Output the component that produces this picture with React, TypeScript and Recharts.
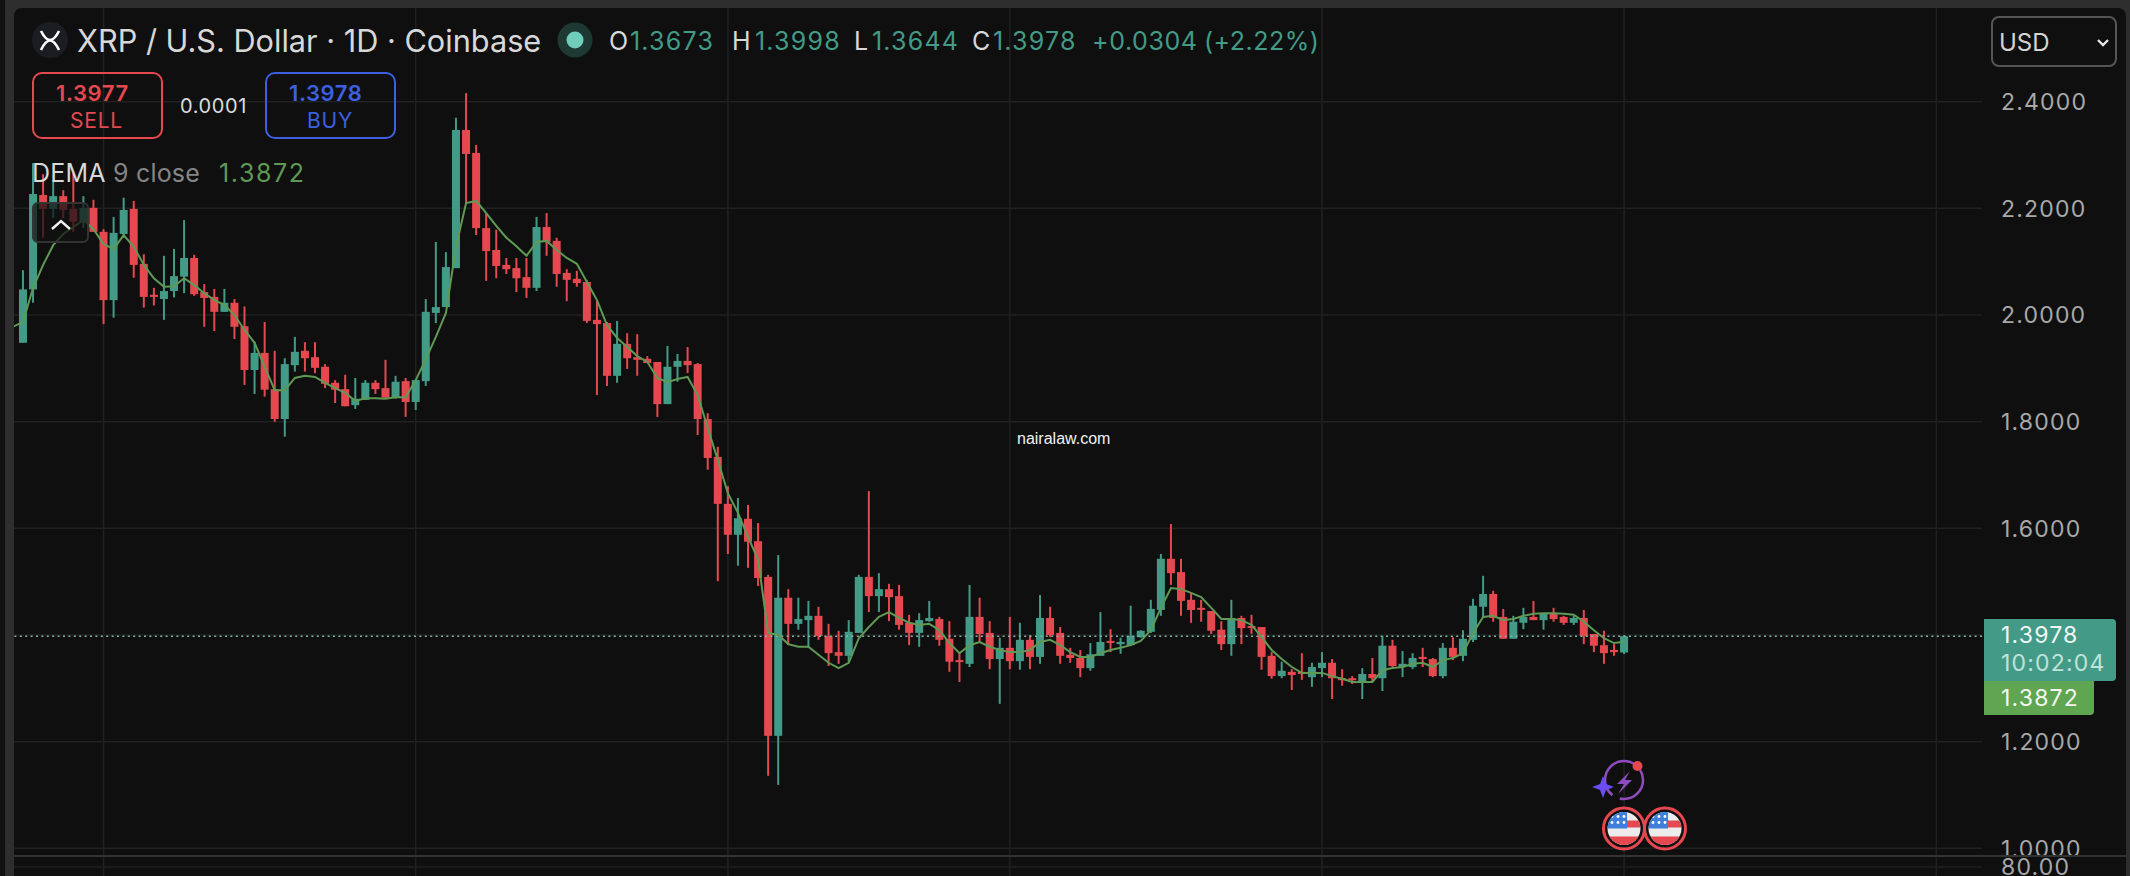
import React from "react";
import {
  Bar,
  CartesianGrid,
  ComposedChart,
  Line,
  ReferenceLine,
  XAxis,
  YAxis,
} from "recharts";

const opens = [
  1.948, 2.048, 2.225, 2.199, 2.223, 2.199, 2.175, 2.201, 2.156, 2.028,
  2.152, 2.199, 2.096, 2.038, 2.030, 2.045, 2.072, 2.107, 2.043, 2.034,
  2.006, 2.023, 1.979, 1.897, 1.929, 1.861, 1.805, 1.906, 1.933, 1.921,
  1.903, 1.873, 1.861, 1.831, 1.841, 1.873, 1.863, 1.846, 1.876, 1.837,
  1.876, 2.004, 2.015, 2.088, 2.347, 2.304, 2.163, 2.122, 2.094, 2.088,
  2.071, 2.051, 2.165, 2.139, 2.079, 2.068, 2.062, 1.991, 1.985, 1.886,
  1.946, 1.921, 1.918, 1.912, 1.833, 1.903, 1.914, 1.908, 1.805, 1.734,
  1.646, 1.588, 1.618, 1.576, 1.509, 1.211, 1.470, 1.421, 1.428, 1.436,
  1.398, 1.368, 1.361, 1.404, 1.509, 1.473, 1.486, 1.473, 1.423, 1.404,
  1.426, 1.430, 1.393, 1.353, 1.346, 1.434, 1.404, 1.355, 1.376, 1.351,
  1.391, 1.359, 1.432, 1.404, 1.363, 1.357, 1.338, 1.361, 1.389, 1.383,
  1.381, 1.396, 1.406, 1.447, 1.543, 1.518, 1.466, 1.451, 1.445, 1.410,
  1.383, 1.432, 1.417, 1.415, 1.361, 1.323, 1.331, 1.331, 1.321, 1.338,
  1.348, 1.319, 1.319, 1.312, 1.327, 1.319, 1.380, 1.340, 1.340, 1.359,
  1.355, 1.323, 1.376, 1.361, 1.391, 1.453, 1.477, 1.434, 1.393, 1.423,
  1.434, 1.428, 1.440, 1.434, 1.423, 1.432, 1.402, 1.381, 1.372, 1.3673,
];

const highs = [
  2.084, 2.285, 2.264, 2.253, 2.234, 2.266, 2.223, 2.216, 2.161, 2.184,
  2.220, 2.214, 2.114, 2.051, 2.111, 2.124, 2.178, 2.113, 2.058, 2.049,
  2.049, 2.030, 2.016, 1.950, 1.987, 1.933, 1.919, 1.959, 1.949, 1.949,
  1.908, 1.878, 1.888, 1.882, 1.878, 1.878, 1.916, 1.886, 1.882, 1.878,
  2.030, 2.137, 2.118, 2.370, 2.416, 2.319, 2.190, 2.160, 2.107, 2.107,
  2.107, 2.184, 2.191, 2.145, 2.086, 2.083, 2.066, 2.028, 1.987, 1.989,
  1.966, 1.964, 1.923, 1.912, 1.942, 1.927, 1.940, 1.910, 1.816, 1.753,
  1.679, 1.657, 1.644, 1.610, 1.513, 1.550, 1.486, 1.470, 1.464, 1.453,
  1.421, 1.408, 1.428, 1.513, 1.670, 1.516, 1.496, 1.494, 1.438, 1.441,
  1.464, 1.434, 1.426, 1.366, 1.494, 1.470, 1.426, 1.395, 1.434, 1.423,
  1.400, 1.475, 1.453, 1.415, 1.376, 1.372, 1.385, 1.443, 1.411, 1.395,
  1.455, 1.409, 1.466, 1.552, 1.608, 1.543, 1.479, 1.466, 1.445, 1.426,
  1.466, 1.436, 1.438, 1.415, 1.368, 1.350, 1.336, 1.366, 1.348, 1.368,
  1.355, 1.336, 1.323, 1.338, 1.357, 1.398, 1.391, 1.370, 1.366, 1.376,
  1.357, 1.385, 1.396, 1.409, 1.468, 1.511, 1.483, 1.449, 1.436, 1.451,
  1.464, 1.441, 1.451, 1.436, 1.436, 1.447, 1.402, 1.408, 1.383, 1.3998,
];

const lows = [
  1.948, 2.023, 2.145, 2.182, 2.182, 2.156, 2.163, 2.156, 1.983, 1.995,
  2.145, 2.070, 2.014, 2.018, 1.991, 2.033, 2.041, 2.036, 1.978, 1.970,
  2.006, 1.955, 1.869, 1.852, 1.847, 1.800, 1.772, 1.894, 1.894, 1.891,
  1.863, 1.835, 1.829, 1.824, 1.841, 1.852, 1.845, 1.843, 1.809, 1.822,
  1.867, 1.985, 2.015, 2.088, 2.210, 2.150, 2.064, 2.069, 2.077, 2.043,
  2.032, 2.045, 2.111, 2.053, 2.026, 2.053, 1.985, 1.850, 1.867, 1.873,
  1.899, 1.886, 1.910, 1.809, 1.833, 1.875, 1.891, 1.775, 1.710, 1.501,
  1.552, 1.530, 1.526, 1.492, 1.136, 1.119, 1.381, 1.410, 1.376, 1.391,
  1.342, 1.346, 1.350, 1.404, 1.443, 1.443, 1.426, 1.410, 1.381, 1.378,
  1.425, 1.380, 1.331, 1.312, 1.340, 1.387, 1.336, 1.271, 1.336, 1.335,
  1.336, 1.346, 1.396, 1.346, 1.348, 1.321, 1.333, 1.361, 1.368, 1.365,
  1.381, 1.395, 1.404, 1.436, 1.494, 1.436, 1.423, 1.425, 1.402, 1.372,
  1.361, 1.383, 1.402, 1.335, 1.318, 1.319, 1.297, 1.316, 1.303, 1.321,
  1.280, 1.305, 1.308, 1.280, 1.312, 1.295, 1.340, 1.321, 1.336, 1.340,
  1.321, 1.319, 1.353, 1.351, 1.387, 1.432, 1.425, 1.393, 1.393, 1.411,
  1.428, 1.410, 1.425, 1.419, 1.419, 1.383, 1.368, 1.346, 1.361, 1.3644,
];

const closes = [
  2.048, 2.227, 2.199, 2.223, 2.197, 2.175, 2.201, 2.156, 2.028, 2.154,
  2.197, 2.094, 2.034, 2.034, 2.045, 2.073, 2.107, 2.039, 2.032, 2.006,
  2.023, 1.978, 1.897, 1.929, 1.860, 1.805, 1.908, 1.931, 1.919, 1.901,
  1.871, 1.860, 1.829, 1.843, 1.873, 1.861, 1.845, 1.875, 1.837, 1.878,
  2.006, 2.015, 2.090, 2.347, 2.302, 2.163, 2.120, 2.092, 2.086, 2.069,
  2.051, 2.165, 2.137, 2.077, 2.066, 2.060, 1.989, 1.983, 1.886, 1.946,
  1.919, 1.916, 1.910, 1.833, 1.903, 1.914, 1.906, 1.805, 1.732, 1.646,
  1.588, 1.619, 1.575, 1.507, 1.211, 1.470, 1.421, 1.430, 1.436, 1.398,
  1.366, 1.361, 1.406, 1.509, 1.473, 1.486, 1.471, 1.419, 1.404, 1.428,
  1.432, 1.391, 1.350, 1.350, 1.434, 1.402, 1.355, 1.376, 1.351, 1.391,
  1.359, 1.432, 1.400, 1.361, 1.357, 1.338, 1.364, 1.387, 1.387, 1.387,
  1.398, 1.408, 1.449, 1.543, 1.516, 1.464, 1.447, 1.449, 1.408, 1.383,
  1.432, 1.413, 1.415, 1.359, 1.323, 1.333, 1.325, 1.327, 1.340, 1.348,
  1.319, 1.316, 1.316, 1.327, 1.319, 1.380, 1.342, 1.346, 1.357, 1.355,
  1.323, 1.376, 1.359, 1.393, 1.455, 1.477, 1.432, 1.393, 1.425, 1.434,
  1.428, 1.440, 1.430, 1.423, 1.432, 1.398, 1.380, 1.366, 1.368, 1.3978,
];

const dema = [
  1.987, 2.051, 2.094, 2.131, 2.152, 2.165, 2.178, 2.161, 2.133, 2.124,
  2.150, 2.128, 2.094, 2.069, 2.053, 2.054, 2.069, 2.056, 2.041, 2.028,
  2.019, 2.000, 1.972, 1.948, 1.903, 1.859, 1.859, 1.882, 1.886, 1.884,
  1.873, 1.863, 1.854, 1.839, 1.844, 1.844, 1.843, 1.846, 1.846, 1.878,
  1.917, 1.959, 2.004, 2.128, 2.210, 2.214, 2.191, 2.167, 2.145, 2.129,
  2.111, 2.137, 2.139, 2.122, 2.107, 2.096, 2.062, 2.028, 1.981, 1.957,
  1.940, 1.923, 1.912, 1.882, 1.874, 1.880, 1.884, 1.850, 1.788, 1.728,
  1.666, 1.629, 1.584, 1.541, 1.404, 1.400, 1.383, 1.378, 1.378, 1.363,
  1.348, 1.338, 1.348, 1.394, 1.415, 1.434, 1.443, 1.432, 1.423, 1.419,
  1.421, 1.409, 1.385, 1.366, 1.381, 1.387, 1.378, 1.372, 1.368, 1.368,
  1.372, 1.387, 1.391, 1.381, 1.368, 1.359, 1.359, 1.366, 1.372, 1.376,
  1.381, 1.389, 1.409, 1.451, 1.488, 1.486, 1.479, 1.471, 1.451, 1.430,
  1.430, 1.428, 1.419, 1.396, 1.372, 1.355, 1.340, 1.329, 1.329, 1.329,
  1.323, 1.318, 1.312, 1.312, 1.312, 1.334, 1.338, 1.340, 1.346, 1.348,
  1.340, 1.353, 1.357, 1.366, 1.404, 1.434, 1.436, 1.428, 1.430, 1.436,
  1.440, 1.441, 1.441, 1.440, 1.438, 1.425, 1.409, 1.394, 1.385, 1.3872,
];

// the DEMA is already running when the visible candles start
const demaBefore = 1.978;

const priceTicks = [1.0, 1.2, 1.4, 1.6, 1.8, 2.0, 2.2, 2.4];
const oscTicks = [80];
const monthTicks = [8, 39, 70, 98, 129, 159, 190];
const lastClose = 1.3978;

const GREEN = "#439b87";
const RED = "#e5484f";
const BLUE = "#3d5fe0";
const DEMA_GREEN = "#5f9a55";
const BG = "#0f0f0f";
const GRID = "#212121";
const FONT = "Inter, sans-serif";

const rows: any[] = [
  { day: -1, dema: demaBefore },
  ...closes.map((close, i) => ({
    day: i,
    open: opens[i],
    high: highs[i],
    low: lows[i],
    close,
    hl: [lows[i], highs[i]],
    dema: dema[i],
  })),
];

const xDomain = [-0.894, 194.54];

function Candle(props: any) {
  const { x, y, width, height, payload } = props;
  if (!payload || payload.open === undefined) return null;
  const { open, high, low, close } = payload;
  const perUnit = height / (high - low);
  const color = close >= open ? GREEN : RED;
  const top = y + (high - Math.max(open, close)) * perUnit;
  const bodyHeight = Math.max(Math.abs(open - close) * perUnit, 2);
  const mid = x + width / 2;
  return (
    <g>
      <rect x={mid - 1} y={y} width={2} height={height} fill={color} />
      <rect x={x} y={top} width={width} height={bodyHeight} fill={color} />
    </g>
  );
}

function Txt({ x, y, size = 25, color = "#d8d8d8", weight = 400, children, spacing = 0, family = FONT }: any) {
  return (
    <span
      style={{
        position: "absolute",
        left: x,
        top: y,
        transform: "translateY(-50%)",
        fontFamily: family,
        fontSize: size,
        fontWeight: weight,
        color,
        letterSpacing: spacing,
        lineHeight: 1,
        whiteSpace: "nowrap",
      }}
    >
      {children}
    </span>
  );
}

function Flag({ cx }: { cx: number }) {
  const id = `flag-${cx}`;
  const cy = 828.5;
  const stars = [-12, -6, 0];
  return (
    <g>
      <clipPath id={id}>
        <circle cx={cx} cy={cy} r={16.5} />
      </clipPath>
      <circle cx={cx} cy={cy} r={20.5} fill="#111" stroke={RED} strokeWidth={3} />
      <g clipPath={`url(#${id})`}>
        <rect x={cx - 17} y={cy - 17} width={34} height={34} fill="#ececec" />
        <rect x={cx - 17} y={cy - 8} width={34} height={7} fill={RED} />
        <rect x={cx - 17} y={cy + 8} width={34} height={10} fill={RED} />
        <rect x={cx - 17} y={cy - 17} width={20} height={17} fill="#3f7fdc" />
        {stars.map((sx) =>
          [-12, -6].map((sy) => (
            <circle key={`${sx}${sy}`} cx={cx + sx} cy={cy + sy} r={1.4} fill="#fff" />
          ))
        )}
      </g>
    </g>
  );
}

function Overlays() {
  const numSpacing = 1.2;
  return (
    <>
      {/* legend */}
      <svg width={2130} height={876} style={{ position: "absolute", left: 0, top: 0, pointerEvents: "none" }}>
        <circle cx={50} cy={40} r={18} fill="#1a1e22" />
        <path d="M41 31 Q50 49 59 31 M41 50 Q50 31 59 50" fill="none" stroke="#fff" strokeWidth={2.6} />
        <circle cx={575} cy={40} r={17.5} fill="#1e3833" />
        <circle cx={575} cy={40} r={8.5} fill="#6fcdb9" />

        <path d="M2098 40 L2103 45 L2108 40" fill="none" stroke="#e6e6e6" strokeWidth={2.4} />

        {/* lightning / sparkle marker */}
        <circle cx={1624} cy={780} r={19} fill="none" stroke="#8d4bbd" strokeWidth={2.6} strokeDasharray="34 8 60 6" />
        <path d="M1630 771 L1617 784 L1624 784 L1618 794 L1632 780 L1625 780 Z" fill="#8d4bbd" />
        <path d="M1603 776 L1606 784 L1614 787 L1606 790 L1603 798 L1600 790 L1592 787 L1600 784 Z" fill="#6a4cf0" />
        <circle cx={1637.5} cy={766} r={5} fill={RED} />
        <Flag cx={1624} />
        <Flag cx={1665} />
      </svg>

      <Txt x={77} y={41} size={30.7}>XRP / U.S. Dollar · 1D · Coinbase</Txt>
      <Txt x={609} y={41} size={25}>O</Txt>
      <Txt x={630} y={41} size={25} color={GREEN} spacing={numSpacing}>1.3673</Txt>
      <Txt x={732} y={41} size={25}>H</Txt>
      <Txt x={755} y={41} size={25} color={GREEN} spacing={numSpacing}>1.3998</Txt>
      <Txt x={854} y={41} size={25}>L</Txt>
      <Txt x={872} y={41} size={25} color={GREEN} spacing={numSpacing}>1.3644</Txt>
      <Txt x={972} y={41} size={25}>C</Txt>
      <Txt x={993} y={41} size={25} color={GREEN} spacing={numSpacing}>1.3978</Txt>
      <Txt x={1092} y={41} size={25} color={GREEN} spacing={0.6}>+0.0304</Txt>
      <Txt x={1204} y={41} size={25} color={GREEN} spacing={0.5}>(+2.22%)</Txt>

      <div style={{ position: "absolute", left: 32, top: 72, width: 131, height: 67, boxSizing: "border-box", border: `2px solid ${RED}`, borderRadius: 10 }} />
      <Txt x={56} y={93} size={22} weight={600} color={RED} spacing={0.6}>1.3977</Txt>
      <Txt x={70} y={120} size={21} color={RED} spacing={0.8}>SELL</Txt>
      <Txt x={180} y={106} size={20} color="#dcdcdc" spacing={0.6}>0.0001</Txt>
      <div style={{ position: "absolute", left: 265, top: 72, width: 131, height: 67, boxSizing: "border-box", border: `2px solid ${BLUE}`, borderRadius: 10 }} />
      <Txt x={289} y={93} size={22} weight={600} color={BLUE} spacing={0.6}>1.3978</Txt>
      <Txt x={307} y={120} size={21} color={BLUE} spacing={0.8}>BUY</Txt>

      <Txt x={32} y={173} size={25} spacing={0.2}>DEMA</Txt>
      <Txt x={113} y={173} size={25} color="#858585" spacing={0.2}>9 close</Txt>
      <Txt x={219} y={173} size={25} color={DEMA_GREEN} spacing={1.6}>1.3872</Txt>

      <Txt x={1017} y={439} size={16} color="#f2f2f2" family="'Liberation Sans', Arial, sans-serif">nairalaw.com</Txt>

      {/* collapse button */}
      <div style={{ position: "absolute", left: 32, top: 202, width: 57, height: 41, boxSizing: "border-box", background: "rgba(17,17,17,0.72)", border: "2px solid #333", borderRadius: 6 }} />
      <svg width={2130} height={876} style={{ position: "absolute", left: 0, top: 0, pointerEvents: "none" }}>
        <path d="M52 229 L61 221 L70 229" fill="none" stroke="#f0f0f0" strokeWidth={2.4} />
      </svg>

      {/* currency select */}
      <div style={{ position: "absolute", left: 1991, top: 16, width: 126, height: 51, boxSizing: "border-box", border: "2px solid #555", borderRadius: 8 }} />
      <Txt x={1999} y={43} size={24} color="#d4d4d4">USD</Txt>

      {/* price tags on the axis */}
      <div style={{ position: "absolute", left: 1984, top: 619, width: 132, height: 62, background: GREEN, borderRadius: "0 4px 4px 0" }} />
      <Txt x={2001} y={635} size={23} color="#f0f7f5" spacing={1.2}>1.3978</Txt>
      <Txt x={2001} y={663} size={23} color="#bfe3da" spacing={1.2}>10:02:04</Txt>
      <div style={{ position: "absolute", left: 1984, top: 681, width: 110, height: 34, background: "#5fa552", borderRadius: "0 0 4px 0" }} />
      <Txt x={2001} y={698} size={23} color="#f2f8f0" spacing={1.2}>1.3872</Txt>
    </>
  );
}

export default function App() {
  const axisTick = { fill: "#a8a8a8", fontSize: 23, fontFamily: FONT, letterSpacing: 1.2 };
  return (
    <div style={{ position: "absolute", left: 0, top: 0, width: 2130, height: 876, overflow: "hidden", background: "#2e2e2e" }}>
      <div style={{ position: "absolute", left: 0, top: 0, width: 5, height: 876, background: "#111" }} />
      <div style={{ position: "absolute", left: 14, top: 8, width: 2112, height: 868, background: BG, borderRadius: "8px 8px 0 0", overflow: "hidden" }} />

      <div style={{ position: "absolute", left: 0, top: 0 }}>
        <ComposedChart width={2130} height={856} data={rows} margin={{ top: 8, right: 0, bottom: 0, left: 14 }}>
          <CartesianGrid stroke={GRID} strokeWidth={1.5} syncWithTicks />
          <XAxis type="number" dataKey="day" domain={xDomain} ticks={monthTicks} allowDataOverflow hide />
          <YAxis
            orientation="right"
            type="number"
            width={148}
            domain={[0.9857, 2.5757]}
            ticks={priceTicks}
            interval={0}
            allowDataOverflow
            axisLine={false}
            tickLine={false}
            tickSize={0}
            tickMargin={19}
            tick={axisTick}
            tickFormatter={(v: number) => v.toFixed(4)}
          />
          <ReferenceLine y={lastClose} stroke="#7fb5a8" strokeDasharray="2 3.4" strokeWidth={1.6} />
          <Line dataKey="dema" stroke={DEMA_GREEN} strokeWidth={2} dot={false} isAnimationActive={false} />
          <Bar dataKey="hl" barSize={8} shape={<Candle />} isAnimationActive={false} />
        </ComposedChart>
      </div>

      {/* oscillator pane, only its top edge is in the picture */}
      <div style={{ position: "absolute", left: 14, top: 857, width: 2112, height: 19, background: BG, overflow: "hidden" }}>
        <ComposedChart width={2116} height={60} data={rows} margin={{ top: 0, right: 0, bottom: 0, left: 0 }}>
          <CartesianGrid stroke={GRID} strokeWidth={1.5} syncWithTicks />
          <XAxis type="number" dataKey="day" domain={xDomain} ticks={monthTicks} allowDataOverflow hide />
          <YAxis
            orientation="right"
            type="number"
            width={148}
            domain={[30, 90]}
            ticks={oscTicks}
            interval={0}
            allowDataOverflow
            axisLine={false}
            tickLine={false}
            tickSize={0}
            tickMargin={19}
            tick={axisTick}
            tickFormatter={(v: number) => v.toFixed(2)}
          />
          <Line dataKey="osc" stroke={DEMA_GREEN} dot={false} isAnimationActive={false} />
        </ComposedChart>
      </div>
      <div style={{ position: "absolute", left: 14, top: 855, width: 2112, height: 2, background: "#333" }} />

      <Overlays />
    </div>
  );
}
